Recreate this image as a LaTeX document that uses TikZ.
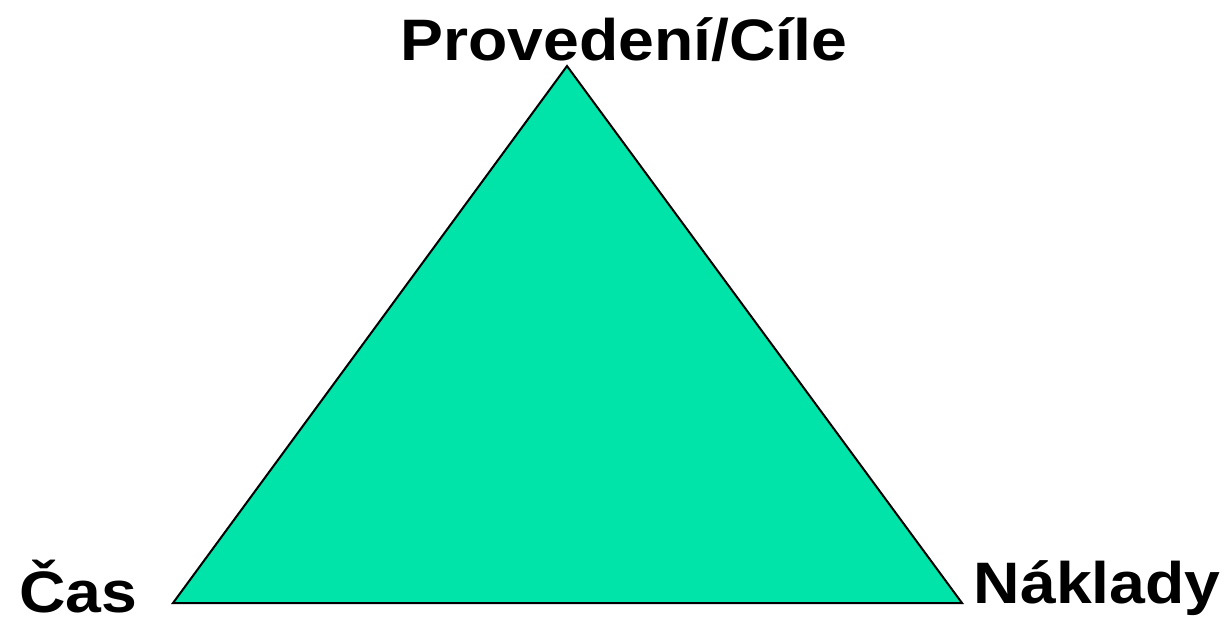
\documentclass[tikz,border=0pt]{standalone}
\usepackage{fontspec}
\setmainfont{Liberation Sans}
\definecolor{trifill}{HTML}{00E3A9}
\begin{document}
\begin{tikzpicture}[x=1pt,y=-1pt,
  lbl/.style={inner sep=0pt,xscale=1.1,transform shape,font=\fontsize{58.5}{60}\selectfont\bfseries}]
\useasboundingbox (0,0) rectangle (1227,624);
\coordinate (T) at (567,66);
\coordinate (L) at (173,603);
\coordinate (R) at (962,603);
\filldraw[fill=trifill,draw=black,line width=2pt,line join=miter] (T) -- (L) -- (R) -- cycle;
\node[lbl,anchor=base] (top) at (624,60) {Provedení/Cíle};
\node[lbl,anchor=base west] (cas) at (19,612) {Čas};
\node[lbl,anchor=base east] (nak) at (1221,603) {Náklady};
\end{tikzpicture}
\end{document}
